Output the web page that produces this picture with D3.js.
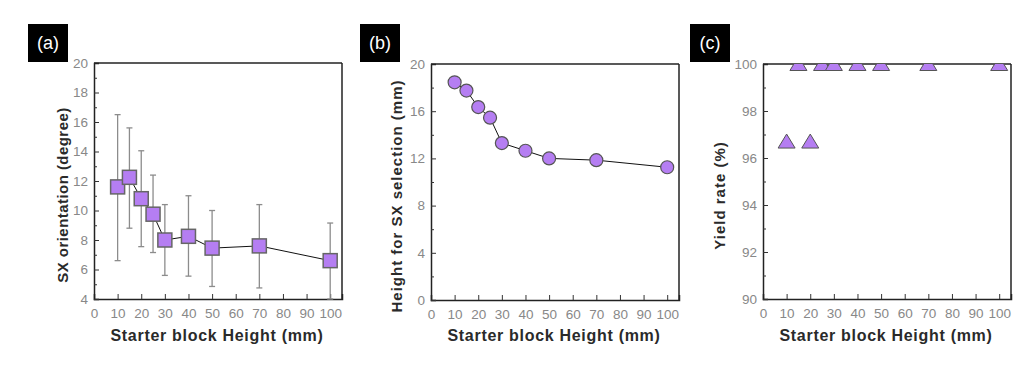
<!DOCTYPE html>
<html><head><meta charset="utf-8">
<script src="https://cdn.jsdelivr.net/npm/d3@7"></script>
<style>
body{margin:0;background:#fff;}
svg{display:block;font-family:"Liberation Sans",Arial,sans-serif;}
</style></head>
<body><svg id="c" width="1033" height="367"></svg>
<script>
// ---- data ----
const heights = [10, 15, 20, 25, 30, 40, 50, 70, 100];
const sxOrientation = [11.6, 12.25, 10.8, 9.75, 8.0, 8.25, 7.45, 7.6, 6.6];
const sxErrLow = [6.6, 8.8, 7.55, 7.15, 5.6, 5.55, 4.85, 4.75, 4.0];
const sxErrHigh = [16.5, 15.6, 14.05, 12.4, 10.4, 11.0, 10.0, 10.4, 9.15];
const selHeight = [18.45, 17.75, 16.35, 15.45, 13.3, 12.65, 12.0, 11.85, 11.25];
const yieldRate = [96.7, 100, 96.7, 100, 100, 100, 100, 100, 100];
const xTicks = [0, 10, 20, 30, 40, 50, 60, 70, 80, 90, 100];
const yTicksA = [4, 6, 8, 10, 12, 14, 16, 18, 20];
const yTicksB = [0, 4, 8, 12, 16, 20];
const yTicksC = [90, 92, 94, 96, 98, 100];
const panelLabels = ["(a)", "(b)", "(c)"];
const xTitle = "Starter block Height (mm)";
const yTitles = ["SX orientation (degree)", "Height for SX selection (mm)", "Yield rate (%)"];

const svg = d3.select("#c");
const FILL = "#b57ef2";

function panel(cfg, idx) {
  const {left, right, top, bottom, yDomain, yTicks, yMinor, yTitleX, yTitleLs, labelX} = cfg;
  const x = d3.scaleLinear().domain([0, 105]).range([left, right]);
  const y = d3.scaleLinear().domain(yDomain).range([bottom, top]);
  const g = svg.append("g");

  // label box
  g.append("rect").attr("x", labelX).attr("y", 24).attr("width", 40).attr("height", 38).attr("fill", "#000");
  g.append("text").attr("x", labelX + 20).attr("y", 49).attr("text-anchor", "middle")
    .attr("fill", "#fff").attr("font-size", 18).text(panelLabels[idx]);

  const xa = g.append("g").attr("transform", `translate(0,${bottom})`)
    .call(d3.axisBottom(x).tickValues(xTicks).tickSize(-5).tickPadding(9).tickFormat(d3.format("d")));
  const ya = g.append("g").attr("transform", `translate(${left},0)`)
    .call(d3.axisLeft(y).tickValues(yTicks).tickSize(-5).tickPadding(6).tickFormat(d3.format("d")));
  const ym = g.append("g").attr("transform", `translate(${left},0)`)
    .call(d3.axisLeft(y).tickValues(yMinor).tickSize(-3).tickFormat(""));
  ym.select(".domain").remove();
  [xa, ya, ym].forEach(a => {
    a.selectAll(".domain").attr("stroke", "#222").attr("stroke-width", 1.5);
    a.selectAll(".tick line").attr("stroke", "#333").attr("stroke-width", 1);
    a.selectAll(".tick text").attr("fill", "#888").attr("font-size", 13.5);
  });
  g.append("line").attr("x1", left).attr("x2", right).attr("y1", top).attr("y2", top).attr("stroke", "#222").attr("stroke-width", 1.5);
  g.append("line").attr("x1", right).attr("x2", right).attr("y1", top).attr("y2", bottom).attr("stroke", "#222").attr("stroke-width", 1.5);

  g.append("text").attr("x", (left + right) / 2 - 1).attr("y", 341).attr("text-anchor", "middle")
    .attr("font-size", 16).attr("font-weight", "bold").attr("letter-spacing", 0.7).attr("fill", "#2a2a2a").text(xTitle);
  g.append("text").attr("transform", `translate(${yTitleX},${(top + bottom) / 2 + 14}) rotate(-90)`)
    .attr("text-anchor", "middle").attr("font-size", 15).attr("font-weight", "bold").attr("letter-spacing", yTitleLs)
    .attr("fill", "#2a2a2a").text(yTitles[idx]);

  const clipId = "clip" + idx;
  svg.append("clipPath").attr("id", clipId).append("rect")
    .attr("x", left).attr("y", top).attr("width", right - left).attr("height", bottom - top);
  const plot = g.append("g").attr("clip-path", `url(#${clipId})`);
  return {x, y, plot, g};
}

// (a)
{
  const p = panel({left: 94, right: 342, top: 63, bottom: 299, yDomain: [4, 20], yTicks: yTicksA,
    yMinor: [5, 7, 9, 11, 13, 15, 17, 19], yTitleX: 68, yTitleLs: 0.45, labelX: 28}, 0);
  const {x, y, g} = p;
  const pts = heights.map((h, i) => ({h, v: sxOrientation[i], lo: sxErrLow[i], hi: sxErrHigh[i]}));
  g.append("path").datum(pts).attr("fill", "none").attr("stroke", "#111").attr("stroke-width", 1)
    .attr("d", d3.line().x(d => x(d.h)).y(d => y(d.v)));
  const eb = g.append("g").attr("stroke", "#8c8c8c").attr("stroke-width", 1.3);
  eb.selectAll("line.v").data(pts).join("line").attr("x1", d => x(d.h)).attr("x2", d => x(d.h))
    .attr("y1", d => y(d.lo)).attr("y2", d => y(d.hi));
  eb.selectAll("line.t").data(pts).join("line").attr("x1", d => x(d.h) - 3).attr("x2", d => x(d.h) + 3)
    .attr("y1", d => y(d.hi)).attr("y2", d => y(d.hi));
  eb.selectAll("line.b").data(pts).join("line").attr("x1", d => x(d.h) - 3).attr("x2", d => x(d.h) + 3)
    .attr("y1", d => y(d.lo)).attr("y2", d => y(d.lo));
  g.selectAll("rect.m").data(pts).join("rect").attr("x", d => x(d.h) - 7).attr("y", d => y(d.v) - 7)
    .attr("width", 14).attr("height", 14).attr("fill", FILL).attr("stroke", "#666").attr("stroke-width", 1.5);
}

// (b)
{
  const p = panel({left: 431, right: 679, top: 64, bottom: 300, yDomain: [0, 20], yTicks: yTicksB,
    yMinor: [2, 6, 10, 14, 18], yTitleX: 402, yTitleLs: 1, labelX: 360}, 1);
  const {x, y, g} = p;
  const pts = heights.map((h, i) => ({h, v: selHeight[i]}));
  g.append("path").datum(pts).attr("fill", "none").attr("stroke", "#111").attr("stroke-width", 1)
    .attr("d", d3.line().x(d => x(d.h)).y(d => y(d.v)));
  g.selectAll("circle").data(pts).join("circle").attr("cx", d => x(d.h)).attr("cy", d => y(d.v)).attr("r", 6.5)
    .attr("fill", FILL).attr("stroke", "#555").attr("stroke-width", 1.2);
}

// (c)
{
  const p = panel({left: 763, right: 1011, top: 64, bottom: 299, yDomain: [90, 100], yTicks: yTicksC,
    yMinor: [91, 93, 95, 97, 99], yTitleX: 725, yTitleLs: 1, labelX: 690}, 2);
  const {x, y, plot} = p;
  const pts = heights.map((h, i) => ({h, v: yieldRate[i]}));
  plot.selectAll("path.t").data(pts).join("path")
    .attr("transform", d => `translate(${x(d.h)},${y(d.v)})`)
    .attr("d", "M0,-7.5L8.5,6.5L-8.5,6.5Z")
    .attr("fill", FILL).attr("stroke", "#555").attr("stroke-width", 1);
}
</script></body></html>
